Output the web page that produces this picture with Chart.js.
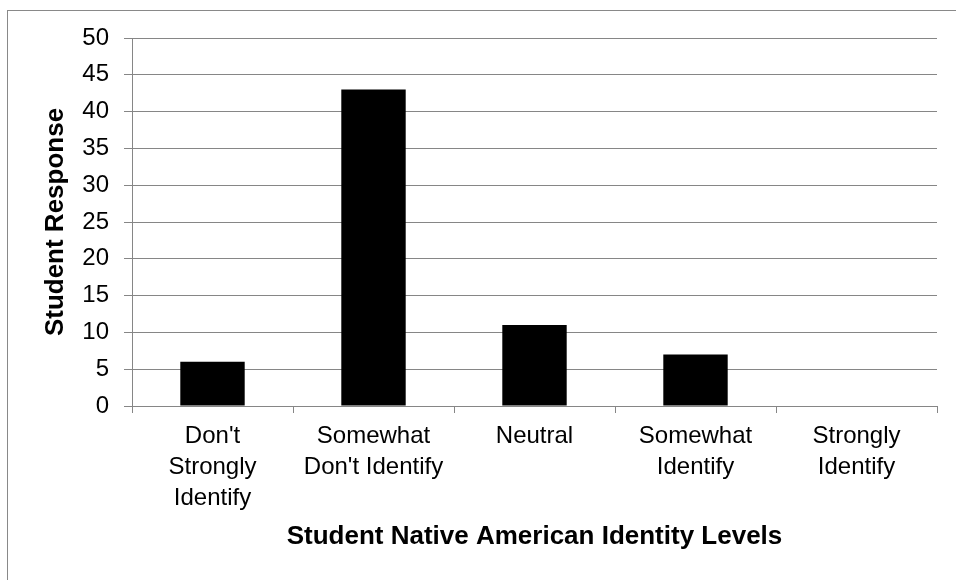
<!DOCTYPE html>
<html>
<head>
<meta charset="utf-8">
<script src="https://cdn.jsdelivr.net/npm/chart.js@4.4.1/dist/chart.umd.min.js"></script>
<style>
    html, body { margin: 0; padding: 0; background: #ffffff; overflow: hidden; }
    #wrap { position: relative; width: 956px; height: 580px; }
    #frame { position: absolute; left: 7px; top: 10px; width: 1000px; height: 1000px; border: 1px solid #898989; }
    #chart { position: absolute; left: 0; top: 0; }
</style>
</head>
<body>
<div id="wrap">
    <div id="frame"></div>
    <canvas id="chart" width="956" height="580"></canvas>
</div>
<script>
// Datos del gráfico
const categorias = [
    ["Don't", "Strongly", "Identify"],
    ["Somewhat", "Don't Identify"],
    "Neutral",
    ["Somewhat", "Identify"],
    ["Strongly", "Identify"]
];
const respuestas = [6, 43, 11, 7, 0];
const ejeY = { min: 0, max: 50, paso: 5 };

const gris = "#868686";
const fuente = "'Liberation Sans', Arial, sans-serif";

document.addEventListener("DOMContentLoaded", function() {
    const ctx = document.getElementById("chart").getContext("2d");

    new Chart(ctx, {
        type: "bar",
        data: {
            labels: categorias,
            datasets: [{
                label: "Student Response",
                data: respuestas,
                backgroundColor: "#000000",
                borderWidth: 0,
                barPercentage: 0.4,
                categoryPercentage: 1.0
            }]
        },
        options: {
            responsive: false,
            animation: false,
            layout: { padding: { left: 0, top: 38, right: 19, bottom: 0 } },
            plugins: {
                legend: { display: false },
                tooltip: { enabled: false }
            },
            scales: {
                x: {
                    grid: {
                        display: true,
                        drawOnChartArea: false,
                        drawTicks: true,
                        tickLength: 7,
                        color: gris,
                        lineWidth: 1
                    },
                    border: { display: true, color: gris, width: 1 },
                    ticks: {
                        color: "#000000",
                        font: { family: fuente, size: 24, lineHeight: 1.29 },
                        padding: 8,
                        maxRotation: 0,
                        autoSkip: false
                    },
                    title: {
                        display: true,
                        text: "Student Native American Identity Levels",
                        color: "#000000",
                        font: { family: fuente, size: 26, weight: "bold" },
                        padding: { top: 0, bottom: 28 }
                    },
                    afterFit: function(scale) { scale.height = 174; }
                },
                y: {
                    min: ejeY.min,
                    max: ejeY.max,
                    grid: {
                        color: gris,
                        lineWidth: 1,
                        tickLength: 8
                    },
                    border: { display: true, color: gris, width: 1 },
                    ticks: {
                        stepSize: ejeY.paso,
                        color: "#000000",
                        font: { family: fuente, size: 24 },
                        padding: 15
                    },
                    title: {
                        display: true,
                        text: "Student Response",
                        color: "#000000",
                        font: { family: fuente, size: 26, weight: "bold" },
                        padding: { top: 40, bottom: 0 }
                    },
                    afterFit: function(scale) { scale.width = 132; }
                }
            }
        }
    });
});
</script>
</body>
</html>
